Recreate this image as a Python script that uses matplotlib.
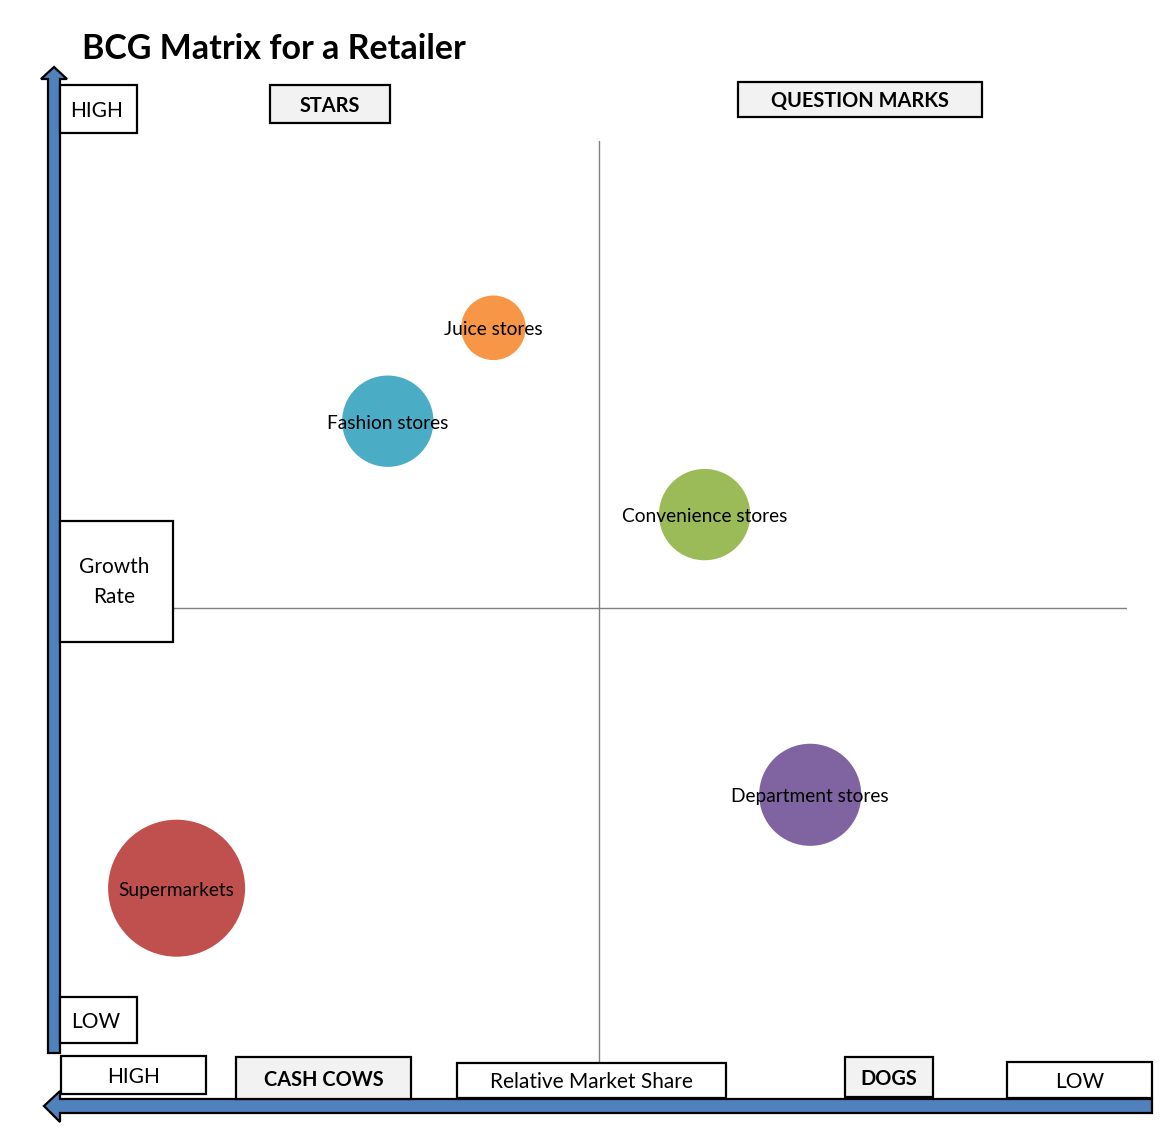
import matplotlib
matplotlib.use("Agg")
import matplotlib.pyplot as plt
from matplotlib.patches import Rectangle, Polygon

# ---- data ----
categories = ["Supermarkets", "Department stores", "Convenience stores", "Fashion stores", "Juice stores"]
market_share = [1, 7, 6, 3, 4]      # x (relative market share, HIGH at left)
growth_rate = [2, 3, 6, 7, 8]       # y
bubble_size = [45, 25, 20, 20, 10]
colors = ["#C0504D", "#8064A2", "#9BBB59", "#4BACC6", "#F79646"]

W, H = 1166, 1133
DPI = 100
FONT = ["Lato", "DejaVu Sans"]
plt.rcParams["font.family"] = FONT

fig = plt.figure(figsize=(W / DPI, H / DPI), dpi=DPI)

# data axes (plot area in pixels: x 71..1127, y 141..1075)
L, R, T, B = 71, 1127, 141, 1075
ax = fig.add_axes([L / W, (H - B) / H, (R - L) / W, (B - T) / H])
ax.set_xlim(0, 10)
ax.set_ylim(0, 10)
ax.axis("off")
ax.axvline(5, color="#808080", lw=1, zorder=1)
ax.axhline(5, color="#808080", lw=1, zorder=1)

# bubble size -> marker area (points^2); largest bubble ~137 px diameter
k = (137 * 72 / DPI) ** 2 / max(bubble_size)
ax.scatter(market_share, growth_rate, s=[b * k for b in bubble_size], c=colors,
           edgecolors="none", zorder=2)
for c, x, y in zip(categories, market_share, growth_rate):
    ax.annotate(c, (x, y), xytext=(0, -1.5), textcoords="offset points",
                ha="center", va="center", fontsize=13.8, color="black", zorder=3)

# overlay axes in pixel coordinates
ov = fig.add_axes([0, 0, 1, 1], zorder=5)
ov.set_xlim(0, W)
ov.set_ylim(H, 0)
ov.axis("off")
ov.patch.set_alpha(0)

ARROW = "#4F81BD"
# vertical arrow
ov.add_patch(Polygon([(48, 1053), (60, 1053), (60, 79), (67, 79), (54, 67),
                      (41, 79), (48, 79)], closed=True, facecolor=ARROW,
                     edgecolor="black", lw=1.6, zorder=1))
# horizontal arrow
ov.add_patch(Polygon([(1152, 1099), (1152, 1113), (60, 1113), (60, 1122), (44, 1106),
                      (60, 1091), (60, 1099)], closed=True, facecolor=ARROW,
                     edgecolor="black", lw=1.6, zorder=1))


def box(x0, y0, x1, y1, text, bold=False, fill="white", fs=15, tx=None, ty=None, ha="center"):
    ov.add_patch(Rectangle((x0, y0), x1 - x0, y1 - y0, facecolor=fill,
                           edgecolor="black", lw=1.6, zorder=2))
    if tx is None:
        tx = (x0 + x1) / 2
    if ty is None:
        ty = (y0 + y1) / 2 + 2
    ov.text(tx, ty, text, ha=ha, va="center", fontsize=fs,
            fontweight="bold" if bold else "normal", zorder=3, linespacing=1.6)


GREY = "#F2F2F2"
BFS = 14.4
box(60, 85, 137, 133, "HIGH", tx=70, ha="left")
box(270, 85, 390, 123, "STARS", bold=True, fill=GREY, fs=BFS)
box(738, 82, 982, 117, "QUESTION MARKS", bold=True, fill=GREY, fs=BFS)
box(60, 521, 173, 642, "Growth\nRate", tx=114, ty=582)
box(60, 997, 137, 1043, "LOW", tx=71, ha="left")
box(61, 1056, 206, 1094, "HIGH")
box(236, 1057, 411, 1099, "CASH COWS", bold=True, fill=GREY, fs=BFS)
box(457, 1063, 726, 1098, "Relative Market Share")
box(845, 1057, 933, 1097, "DOGS", bold=True, fill=GREY, fs=BFS)
box(1007, 1062, 1152, 1098, "LOW")

ov.text(82, 49, "BCG Matrix for a Retailer", ha="left", va="center",
        fontsize=24.5, fontweight="bold")

fig.savefig("out.png", dpi=DPI)
